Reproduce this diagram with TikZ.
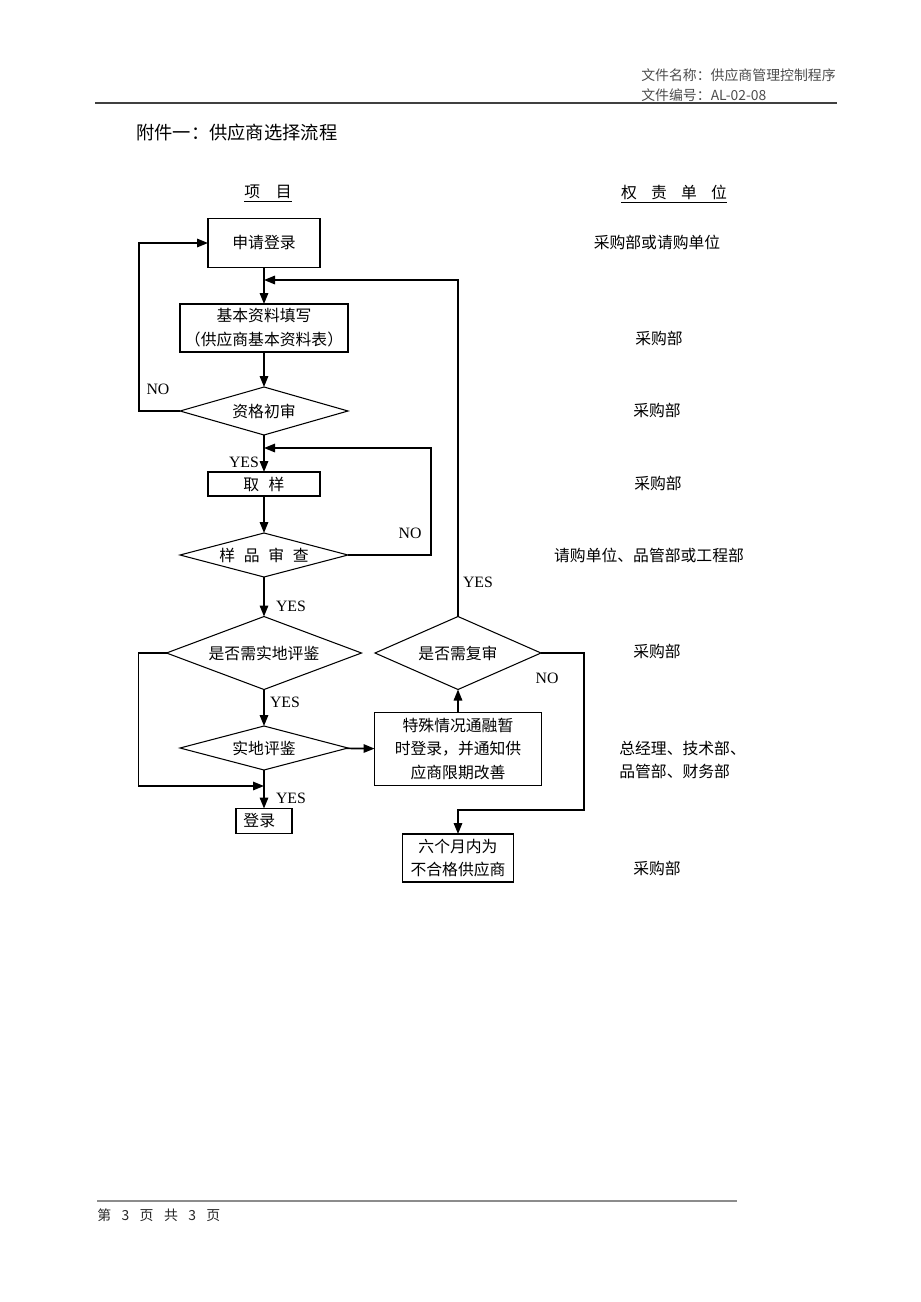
\documentclass[tikz,border=0pt]{standalone}
\usepackage{fontspec}
\setmainfont{Liberation Serif}
\newfontfamily\cjk{Noto Sans CJK SC}
\usetikzlibrary{shapes.geometric,arrows.meta}
\tikzset{
	box/.style={draw,line width=0.6pt,inner sep=0pt,outer sep=0pt,align=center,font=\cjk\fontsize{9}{13.6}\selectfont},
	dia/.style={draw,diamond,aspect=4,line width=0.6pt,inner sep=0pt,outer sep=0pt,font=\cjk\fontsize{9}{11}\selectfont},
	flow/.style={line width=0.9pt,-{Triangle[length=2.2mm,width=1.7mm]}},
	yn/.style={inner sep=0pt,font=\fontsize{9}{11}\selectfont},
	duty/.style={inner sep=0pt,align=left,font=\cjk\fontsize{9}{13.6}\selectfont},
	hdr/.style={inner sep=0pt,text=black!70,font=\cjk\fontsize{7.9}{10}\selectfont}
}
\begin{document}
\begin{tikzpicture}[x=0.02cm,y=-0.02cm]
	\useasboundingbox (0,0) rectangle (920,1302);
	\node[hdr,anchor=east] (hname) at (836,75) {文件名称：供应商管理控制程序};
	\node[hdr,anchor=west] (hcode) at (641,95) {文件编号：AL-02-08};
	\draw[line width=1.2pt,black!75] (95,103) -- (837,103);
	\node[anchor=west,inner sep=0pt,font=\cjk\fontsize{10.4}{12}\selectfont] (title) at (136,133) {附件一：供应商选择流程};
	\node[duty] (colitem) at (268,194) {\underline{项\quad 目}};
	\node[duty] (colduty) at (674,194) {\underline{权\hspace{0.9em}责\hspace{0.9em}单\hspace{0.9em}位}};
	\node[box,minimum width=2.24cm,minimum height=0.98cm] (apply) at (264,243) {申请登录};
	\node[box,minimum width=3.36cm,minimum height=0.96cm] (basic) at (264,328) {基本资料填写\\（供应商基本资料表）};
	\node[dia,minimum width=3.36cm,minimum height=0.96cm] (qual) at (264,411) {资格初审};
	\node[box,minimum width=2.24cm,minimum height=0.48cm] (sample) at (264,484) {取\hspace{0.6em}样};
	\node[dia,minimum width=3.36cm,minimum height=0.88cm] (check) at (264,555) {样\hspace{0.55em}品\hspace{0.55em}审\hspace{0.55em}查};
	\node[dia,minimum width=3.9cm,minimum height=1.46cm] (needsite) at (264,653) {是否需实地评鉴};
	\node[dia,minimum width=3.36cm,minimum height=0.88cm] (site) at (264,748) {实地评鉴};
	\node[box,minimum width=1.12cm,minimum height=0.5cm] (reg) at (264,821) {登录\hspace{0.6em}};
	\node[dia,minimum width=3.32cm,minimum height=1.46cm] (needrev) at (458,653) {是否需复审};
	\node[box,minimum width=3.34cm,minimum height=1.46cm] (special) at (458,749) {特殊情况通融暂\\时登录，并通知供\\应商限期改善};
	\node[box,minimum width=2.22cm,minimum height=0.96cm] (six) at (458,858) {六个月内为\\不合格供应商};
	\coordinate (jA) at (264,280);
	\coordinate (jB) at (264,448);
	\coordinate (jC) at (264,786);
	\draw[flow] (apply) -- (basic);
	\draw[flow] (basic) -- (qual);
	\draw[flow] (qual) -- (sample);
	\draw[flow] (sample) -- (check);
	\draw[flow] (check) -- (needsite);
	\draw[flow] (needsite) -- (site);
	\draw[flow] (site) -- (reg);
	\draw[flow] (site) -- (special);
	\draw[flow] (special) -- (needrev);
	\draw[flow] (qual.west) -- ++(-41,0) |- (apply.west);
	\draw[flow] (needrev.north) |- (jA);
	\draw[flow] (check.east) -- ++(83,0) |- (jB);
	\draw[flow] (needsite.west) -- ++(-28,0) |- (jC);
	\draw[flow] (needrev.east) -- ++(43,0) -- ++(0,157) -| (six.north);
	\node[yn] (no1) at (158,389) {NO};
	\node[yn] (yes1) at (244,462) {YES};
	\node[yn] (no2) at (410,533) {NO};
	\node[yn] (yes2) at (478,582) {YES};
	\node[yn] (yes3) at (291,606) {YES};
	\node[yn] (yes4) at (285,702) {YES};
	\node[yn] (no3) at (547,678) {NO};
	\node[yn] (yes5) at (291,798) {YES};
	\node[duty] (d1) at (657,242) {采购部或请购单位};
	\node[duty] (d2) at (659,338) {采购部};
	\node[duty] (d3) at (657,410) {采购部};
	\node[duty] (d4) at (658,483) {采购部};
	\node[duty] (d5) at (649,555) {请购单位、品管部或工程部};
	\node[duty] (d6) at (657,651) {采购部};
	\node[duty,anchor=west] (d7) at (619,760) {总经理、技术部、\\品管部、财务部};
	\node[duty] (d8) at (657,868) {采购部};
	\draw[line width=1.2pt,black!45] (97,1201) -- (737,1201);
	\node[hdr,anchor=west,text=black!85] (foot) at (97,1215) {第\hspace{0.75em}3\hspace{0.75em}页\hspace{0.75em}共\hspace{0.75em}3\hspace{0.75em}页};
\end{tikzpicture}
\end{document}
